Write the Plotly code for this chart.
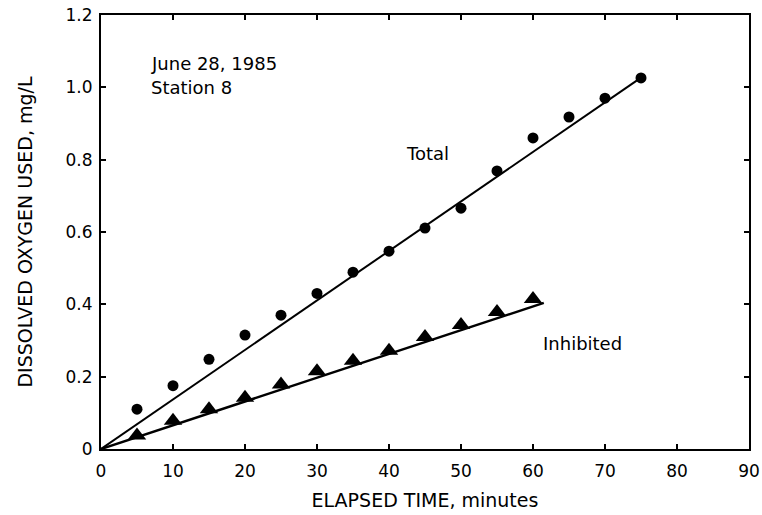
import plotly.graph_objects as go

# Data
time_total = [5, 10, 15, 20, 25, 30, 35, 40, 45, 50, 55, 60, 65, 70, 75]
do_total = [0.11, 0.175, 0.248, 0.315, 0.37, 0.43, 0.489, 0.547, 0.611, 0.666, 0.769, 0.86, 0.918, 0.97, 1.026]
time_inhib = [5, 10, 15, 20, 25, 30, 35, 40, 45, 50, 55, 60]
do_inhib = [0.037, 0.078, 0.11, 0.142, 0.178, 0.215, 0.244, 0.272, 0.31, 0.343, 0.379, 0.415]
fit_total_x = [0, 74.5]
fit_total_y = [0, 1.02]
fit_inhib_x = [0, 61.5]
fit_inhib_y = [0, 0.404]

x_ticks = [0, 10, 20, 30, 40, 50, 60, 70, 80, 90]
y_ticks = [0, 0.2, 0.4, 0.6, 0.8, 1.0, 1.2]
y_tick_text = ["0", "0.2", "0.4", "0.6", "0.8", "1.0", "1.2"]

FONT = "DejaVu Sans, sans-serif"

fig = go.Figure()
fig.add_trace(go.Scatter(x=fit_total_x, y=fit_total_y, mode="lines",
                         line=dict(color="black", width=2), showlegend=False))
fig.add_trace(go.Scatter(x=fit_inhib_x, y=fit_inhib_y, mode="lines",
                         line=dict(color="black", width=2.5), showlegend=False))
fig.add_trace(go.Scatter(x=time_total, y=do_total, mode="markers",
                         marker=dict(symbol="circle", size=11, color="black"),
                         showlegend=False))
fig.add_trace(go.Scatter(x=time_inhib, y=do_inhib, mode="markers",
                         marker=dict(symbol="triangle-up", size=16, color="black"),
                         showlegend=False))

fig.add_annotation(x=45.3, y=0.816, text="Total", showarrow=False,
                   font=dict(size=18, color="black", family=FONT))
fig.add_annotation(x=66.9, y=0.293, text="Inhibited", showarrow=False,
                   font=dict(size=18, color="black", family=FONT))
fig.add_annotation(x=6.6, y=1.067, text="June 28, 1985", showarrow=False,
                   xanchor="left", font=dict(size=18, color="black", family=FONT))
fig.add_annotation(x=6.6, y=1.0, text="Station 8", showarrow=False,
                   xanchor="left", font=dict(size=18, color="black", family=FONT))

axis_common = dict(showgrid=False, zeroline=False, showline=True, linecolor="black",
                   linewidth=2, mirror="ticks", ticks="inside", ticklen=5,
                   tickwidth=1.5, tickcolor="black", automargin=False,
                   tickfont=dict(size=17, color="black", family=FONT))

fig.update_xaxes(range=[0, 90], tickvals=x_ticks, ticklabelstandoff=6,
                 title=dict(text="ELAPSED TIME, minutes", standoff=13,
                            font=dict(size=19, color="black", family=FONT)),
                 **axis_common)
fig.update_yaxes(range=[0, 1.2], tickvals=y_ticks, ticktext=y_tick_text,
                 ticklabelstandoff=3,
                 title=dict(text="DISSOLVED OXYGEN USED, mg/L", standoff=28,
                            font=dict(size=19, color="black", family=FONT)),
                 **axis_common)

fig.update_layout(width=762, height=515,
                  margin=dict(l=101, r=13, t=15, b=66),
                  plot_bgcolor="white", paper_bgcolor="white")

fig.write_html("out.html")
